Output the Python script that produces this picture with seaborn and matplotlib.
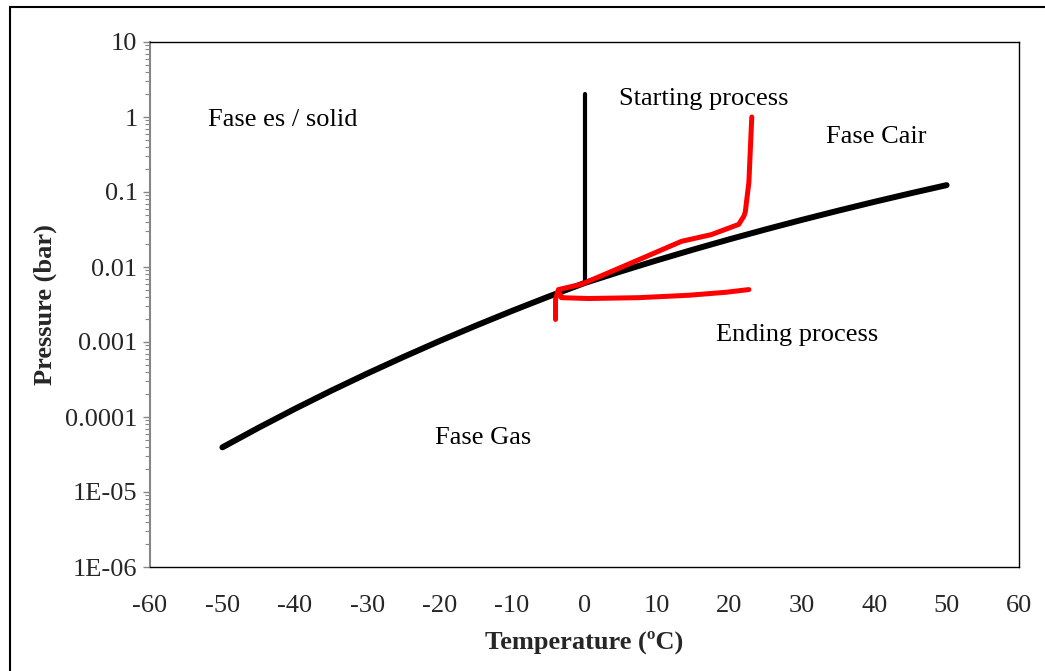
import numpy as np
import pandas as pd
import matplotlib
matplotlib.use("Agg")
import matplotlib.pyplot as plt
from matplotlib.ticker import LogLocator, NullFormatter, FixedLocator
from matplotlib.patches import Rectangle
import seaborn as sns

# Saturation (sublimation / vaporisation) curve of water
curve_temp = [-50, -45, -40, -35, -30, -25, -20, -15, -10, -5, 0,
              5, 10, 15, 20, 25, 30, 35, 40, 45, 50]
curve_pres = [3.94e-5, 7.2e-5, 1.284e-4, 2.236e-4, 3.8e-4, 6.32e-4, 1.032e-3, 1.652e-3,
              2.6e-3, 4.02e-3, 6.11e-3, 8.72e-3, 1.228e-2, 1.705e-2, 2.339e-2, 3.169e-2,
              4.246e-2, 5.628e-2, 7.384e-2, 9.593e-2, 1.235e-1]

# Vertical line at 0 °C
vline_temp = [0, 0]
vline_pres = [6.1e-3, 2.0]

# Measured process path: starting (heating) branch
start_temp = [-4.0, -4.0, -3.6, -0.4, 3.7, 7.5, 13.4, 17.5, 21.3, 22.0, 22.2, 22.7, 22.9, 23.1]
start_pres = [2.0e-3, 3.7e-3, 5.0e-3, 5.9e-3, 8.7e-3, 1.25e-2, 2.2e-2, 2.7e-2,
              3.7e-2, 4.75e-2, 5.4e-2, 0.135, 0.37, 1.0]

# Ending branch
end_temp = [-3.6, -3.3, -3.2, 0.55, 7.5, 14.4, 19.5, 22.7]
end_pres = [4.6e-3, 4.2e-3, 3.9e-3, 3.8e-3, 3.9e-3, 4.2e-3, 4.6e-3, 5.0e-3]

# Region / annotation labels
labels = ["Fase es / solid", "Starting process", "Fase Cair", "Ending process", "Fase Gas"]
label_temp = [-52, 4.7, 33.3, 18.2, -20.6]
label_pres = [1.0, 1.9, 0.59, 1.35e-3, 5.7e-5]

x_ticks = list(range(-60, 61, 10))
y_ticks = [1e-6, 1e-5, 1e-4, 1e-3, 1e-2, 1e-1, 1, 10]
y_tick_labels = ["1E-06", "1E-05", "0.0001", "0.001", "0.01", "0.1", "1", "10"]

sns.set_style("white")
plt.rcParams["font.family"] = ["Liberation Serif", "DejaVu Serif"]

fig = plt.figure(figsize=(10.45, 6.71), dpi=100)
ax = fig.add_axes([150 / 1045, 1 - 567 / 671, (1019 - 150) / 1045, (567 - 42) / 671])

sns.lineplot(x=curve_temp, y=curve_pres, ax=ax, color="black", linewidth=4.3,
             sort=False, estimator=None, solid_capstyle="round", solid_joinstyle="round")
sns.lineplot(x=vline_temp, y=vline_pres, ax=ax, color="black", linewidth=3.0,
             sort=False, estimator=None, solid_capstyle="round")
sns.lineplot(x=start_temp, y=start_pres, ax=ax, color="#ff0000", linewidth=3.6,
             sort=False, estimator=None, solid_capstyle="round", solid_joinstyle="round")
sns.lineplot(x=end_temp, y=end_pres, ax=ax, color="#ff0000", linewidth=3.6,
             sort=False, estimator=None, solid_capstyle="round", solid_joinstyle="round")

ax.set_yscale("log")
ax.set_xlim(-60, 60)
ax.set_ylim(1e-6, 10)

ax.set_xticks(x_ticks)
ax.set_xticklabels([str(t) for t in x_ticks])
ax.yaxis.set_major_locator(FixedLocator(y_ticks))
ax.set_yticklabels(y_tick_labels)
ax.yaxis.set_minor_locator(LogLocator(base=10, subs=np.arange(2, 10), numticks=20))
ax.yaxis.set_minor_formatter(NullFormatter())

ax.tick_params(axis="x", which="both", length=0, pad=20, labelsize=19)
ax.tick_params(axis="y", which="major", direction="out", length=5, width=1,
               color="#868686", pad=4, labelsize=19, left=True)
ax.tick_params(axis="y", which="minor", direction="out", length=3.5, width=0.8,
               color="#868686", left=True)

for side in ["top", "right", "bottom"]:
    ax.spines[side].set_color("black")
    ax.spines[side].set_linewidth(1.0)
ax.spines["left"].set_color("#868686")
ax.spines["left"].set_linewidth(1.5)
ax.grid(False)

ax.set_xlabel("Temperature (ºC)", fontsize=19, fontweight="bold", labelpad=10)
ax.set_ylabel("Pressure (bar)", fontsize=19, fontweight="bold", labelpad=6)

for txt, tx, py in zip(labels, label_temp, label_pres):
    ax.text(tx, py, txt, fontsize=19, ha="left", va="center_baseline", color="black")

# Chart-area border
fig.patches.append(Rectangle((10 / 1045, -0.1), 1.2, 1 - 7 / 671 + 0.1,
                             transform=fig.transFigure, fill=False,
                             edgecolor="black", linewidth=1.5, zorder=-1))

fig.savefig("out.png", dpi=100)
